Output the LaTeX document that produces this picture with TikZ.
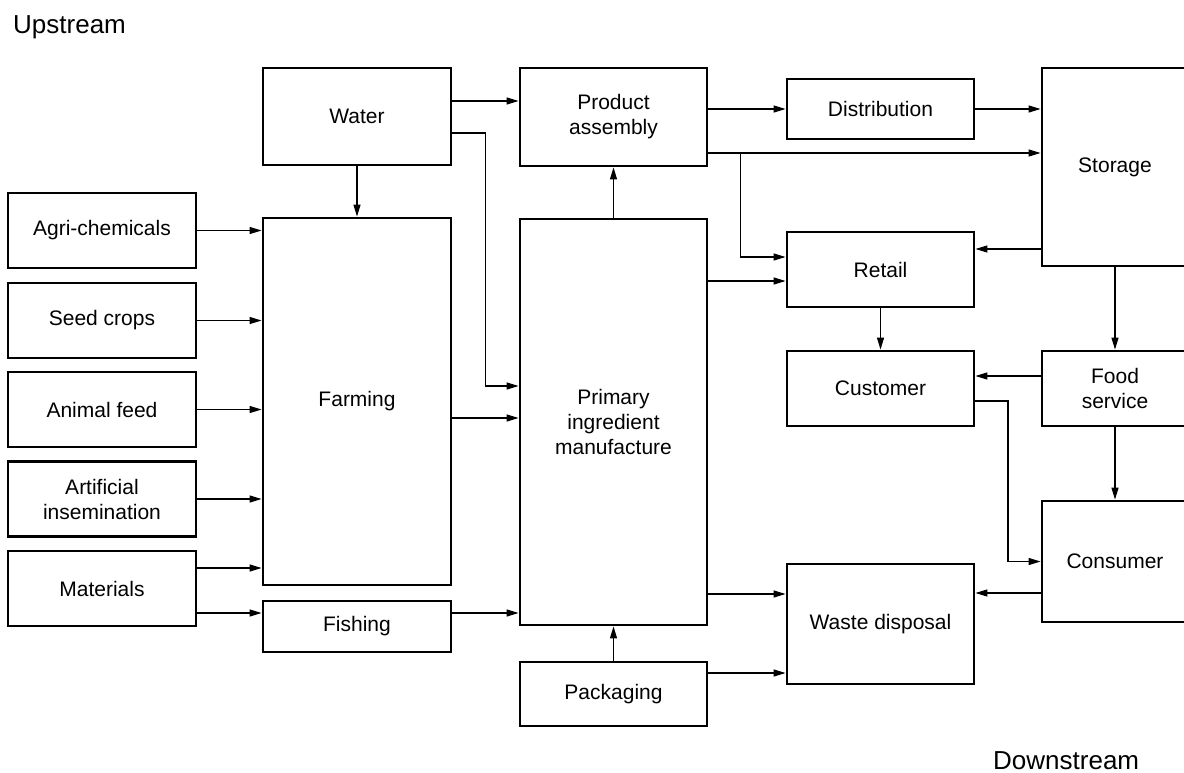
\documentclass[tikz,border=0pt]{standalone}
\usepackage{fontspec}
\setmainfont{Liberation Sans}
\usetikzlibrary{arrows.meta,calc}
\begin{document}
\begin{tikzpicture}[x=1pt,y=-1pt,
  box/.style={draw, line width=2.8pt, align=center, inner sep=0pt,
              font=\fontsize{21}{25}\selectfont},
  arr/.style={line width=1.2pt, -{Triangle[length=12pt,width=7pt]}},
  big/.style={font=\fontsize{26}{30}\selectfont, inner sep=0pt}]
\useasboundingbox (0,0) rectangle (1184,772);
\begin{scope}
\clip (0,0) rectangle (1184,772);

% stream labels
\node[big, anchor=base west] (up) at (13,33) {Upstream};
\node[big, anchor=base west] (down) at (993,769) {Downstream};

% inputs on the left
\node[box, minimum width=188pt, minimum height=75pt] (agri) at (102,230.5) {Agri-chemicals};
\node[box, minimum width=188pt, minimum height=75pt] (seed) at (102,320.5) {Seed crops};
\node[box, minimum width=188pt, minimum height=75pt] (feed) at (102,409.5) {Animal feed};
\node[box, minimum width=188pt, minimum height=75pt] (insem) at (102,499) {Artificial\\insemination};
\node[box, minimum width=188pt, minimum height=75pt] (mat) at (102,588.5) {Materials};

% primary production
\node[box, minimum width=188pt, minimum height=97pt] (water) at (357,116.5) {Water};
\node[box, minimum width=188pt, minimum height=367pt] (farm) at (357,401.5) {Farming};
\node[box, minimum width=188pt, minimum height=51pt] (fish) at (357,626.5) {Fishing};

% manufacturing
\node[box, minimum width=187pt, minimum height=98pt] (assem) at (613.5,117) {Product\\assembly};
\node[box, minimum width=187pt, minimum height=406pt] (prim) at (613.5,422) {Primary\\ingredient\\manufacture};
\node[box, minimum width=187pt, minimum height=64pt] (pack) at (613.5,694) {Packaging};

% distribution and sale
\node[box, minimum width=187pt, minimum height=60pt] (dist) at (880.5,109) {Distribution};
\node[box, minimum width=187pt, minimum height=75pt] (retail) at (880.5,269.5) {Retail};
\node[box, minimum width=187pt, minimum height=75pt] (cust) at (880.5,388.5) {Customer};
\node[box, minimum width=187pt, minimum height=120pt] (waste) at (880.5,624) {Waste disposal};

% right column
\node[box, minimum width=146pt, minimum height=198pt] (store) at (1115,167) {Storage};
\node[box, minimum width=146pt, minimum height=75pt] (food) at (1115,388.5) {Food\\service};
\node[box, minimum width=146pt, minimum height=121pt] (cons) at (1115,561.5) {Consumer};

% inputs into farming and fishing
\foreach \n in {agri,seed,feed,insem}
  \draw[arr] (\n.east) -- (\n.east -| farm.west);
\coordinate (m1) at ([yshift=20.5pt]mat.east);
\coordinate (m2) at ([yshift=-24.5pt]mat.east);
\draw[arr] (m1) -- (m1 -| farm.west);
\draw[arr] (m2) -- (m2 -| fish.west);

% water
\coordinate (w1) at ([yshift=15.5pt]water.east);
\coordinate (w2) at ([yshift=-16.5pt]water.east);
\coordinate (p1) at ([yshift=36pt]prim.west);
\draw[arr] (w1) -- (w1 -| assem.west);
\draw[arr] (w2) -| ($(w2)!.5!(p1)$) |- (p1);
\draw[arr] (water.south) -- (farm.north);

% into primary manufacture
\coordinate (f1) at ([yshift=-16.5pt]farm.east);
\draw[arr] (f1) -- (f1 -| prim.west);
\coordinate (f2) at ([yshift=13.5pt]fish.east);
\draw[arr] (f2) -- (f2 -| prim.west);
\draw[arr] (prim.north) -- (assem.south);
\draw[arr] (pack.north) -- (prim.south);

% out of primary manufacture and packaging
\coordinate (p2) at ([yshift=141pt]prim.east);
\draw[arr] (p2) -- (p2 -| retail.west);
\coordinate (p3) at ([yshift=-172pt]prim.east);
\draw[arr] (p3) -- (p3 -| waste.west);
\coordinate (k1) at ([yshift=21pt]pack.east);
\draw[arr] (k1) -- (k1 -| waste.west);

% out of product assembly
\draw[arr] (dist.west -| assem.east) -- (dist.west);
\coordinate (a2) at ([yshift=-36pt]assem.east);
\draw[arr] (a2) -- (a2 -| store.west);
\coordinate (br) at ([xshift=32pt]a2);
\draw[arr] (br) |- ([yshift=12.5pt]retail.west);

% downstream flows
\draw[arr] (dist.east) -- (dist.east -| store.west);
\coordinate (s1) at ([yshift=-82pt]store.west);
\draw[arr] (s1) -- (s1 -| retail.east);
\draw[arr] (retail.south) -- (cust.north);
\draw[arr] (store.south) -- (food.north);
\coordinate (fs1) at ([yshift=12.5pt]food.west);
\draw[arr] (fs1) -- (fs1 -| cust.east);
\coordinate (c1) at ([yshift=-12.5pt]cust.east);
\draw[arr] (c1) -| ($(c1)!.5!(cons.west)$) |- (cons.west);
\draw[arr] (food.south) -- (cons.north);
\coordinate (cn1) at ([yshift=-31.5pt]cons.west);
\draw[arr] (cn1) -- (cn1 -| waste.east);
\end{scope}
\end{tikzpicture}
\end{document}
